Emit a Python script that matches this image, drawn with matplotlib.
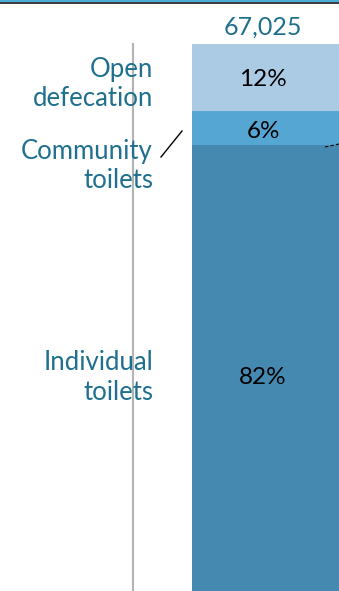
import matplotlib.pyplot as plt

categories = ["Individual\ntoilets", "Community\ntoilets", "Open\ndefecation"]
shares = [82, 6, 12]
total_label = "67,025"
colors = ["#4589b0", "#56a6d4", "#abcbe5"]

plt.rcParams["font.family"] = ["Lato", "DejaVu Sans"]

PX = 5.61  # pixels per percentage point
BASE = 605  # pixel row of the bar base (just below the picture)


def py(y_px):
    # pixel row (from top) -> data y
    return (BASE - y_px) / PX


fig = plt.figure(figsize=(3.39, 5.91), dpi=100)
ax = fig.add_axes([0, 0, 1, 1])
ax.set_xlim(0, 339)
ax.set_ylim(py(591), py(0))
ax.axis("off")

bar_left = 192
bar_w = 200
teal = "#1f6f8f"
pct_y = [py(378), py(131), py(80)]
lab_y = [py(378), py(166), py(84)]

bottom = 0
for i, (s, c) in enumerate(zip(shares, colors)):
    ax.bar(bar_left, s, width=bar_w, bottom=bottom, color=c, align="edge", linewidth=0)
    ax.text(bar_left + 71, pct_y[i], f"{s}%", ha="center", va="center",
            fontsize=17.5, color="black")
    ax.text(153, lab_y[i], categories[i], ha="right", va="center", fontsize=18.5,
            color=teal, linespacing=1.25)
    bottom += s

# value over bar
ax.text(bar_left + 71, py(27), total_label, ha="center", va="center",
        fontsize=18, color=teal)

# leader line for community toilets
ax.plot([161, 182], [py(157), py(131)], color="black", lw=1)
# dashed connector at right
ax.plot([325, 339], [py(147), py(144)], color="black", lw=0.8, ls=(0, (3, 2)))

# grey vertical axis line
ax.plot([133, 133], [py(600), 100], color="#b3b3b3", lw=1.5, zorder=0)

# top border lines
ax.axhline(py(0.5), color="#4cacd8", lw=1.5)
ax.axhline(py(2.5), color="#1a1a1a", lw=1.2)

fig.savefig("out.png", dpi=100)
